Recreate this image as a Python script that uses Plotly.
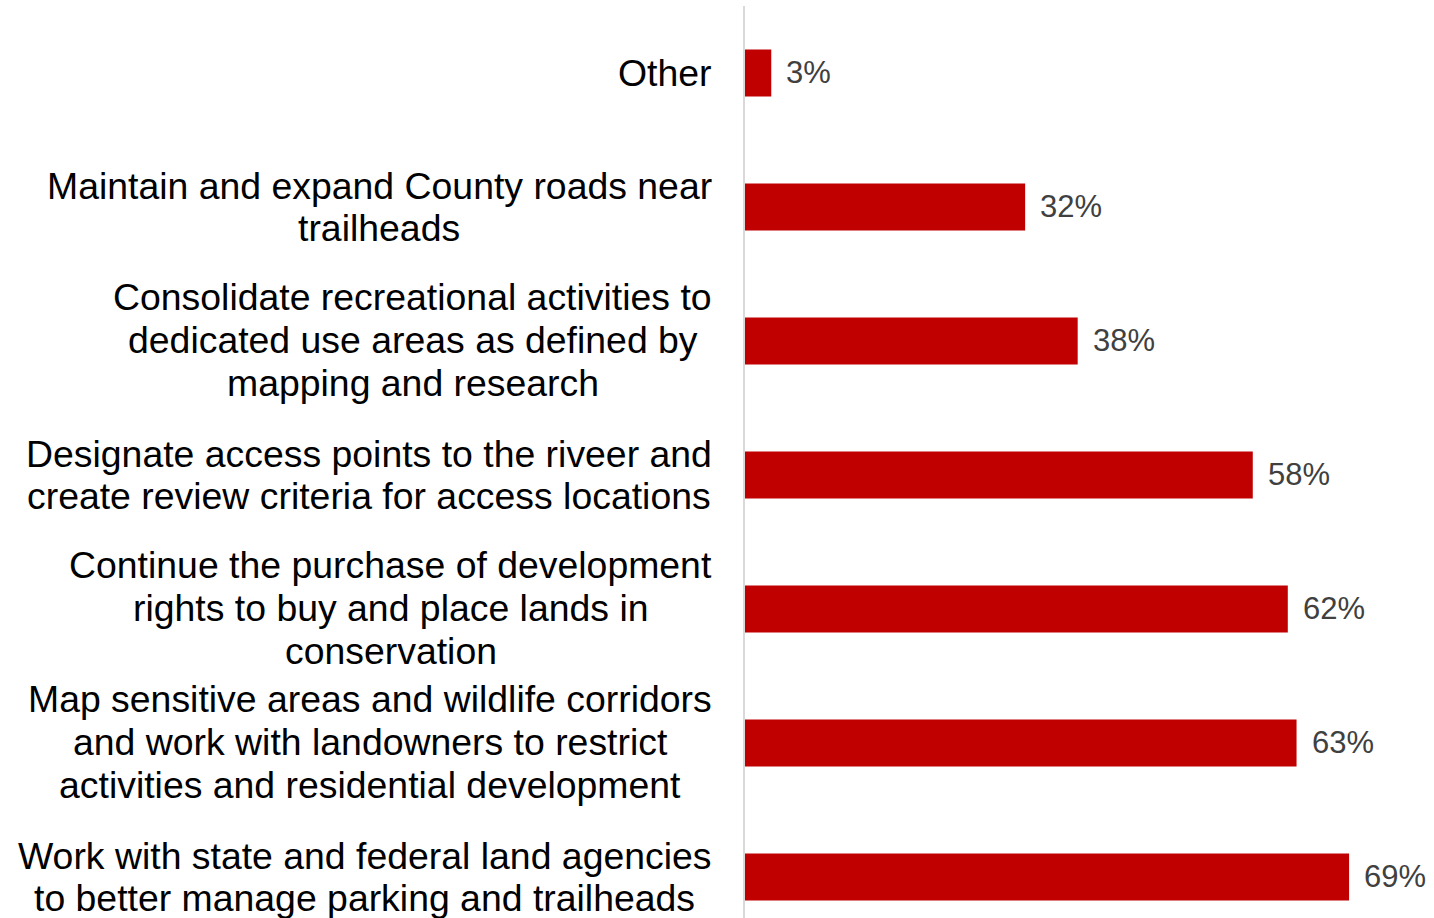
import plotly.graph_objects as go

# Survey responses, listed bottom to top
categories = [
    "Work with state and federal land agencies<br>to better manage parking and trailheads",
    "Map sensitive areas and wildlife corridors<br>and work with landowners to restrict<br>activities and residential development",
    "Continue the purchase of development<br>rights to buy and place lands in<br>conservation",
    "Designate access points to the riveer and<br>create review criteria for access locations",
    "Consolidate recreational activities to<br>dedicated use areas as defined by<br>mapping and research",
    "Maintain and expand County roads near<br>trailheads",
    "Other",
]
values = [69, 63, 62, 58, 38, 32, 3]

BAR_COLOR = "#C00000"
FONT = "Arial, Liberation Sans, sans-serif"
LABEL_SIZE = 37.4
LINE_GAP = 42.7      # px between label lines
LABEL_PAD = 33       # px between label block and axis
VALUE_SIZE = 31

# Arial / Liberation Sans advance widths (1/1000 em) used to centre wrapped lines
_W = dict(zip(
    " abcdefghijklmnopqrstuvwxyzABCDEFGHIJKLMNOPQRSTUVWXYZ",
    [278, 556, 556, 500, 556, 556, 278, 556, 556, 222, 222, 500, 222, 833,
     556, 556, 556, 556, 333, 500, 278, 556, 500, 722, 500, 500, 500,
     667, 667, 722, 722, 667, 611, 778, 722, 278, 500, 667, 556, 833,
     722, 778, 667, 778, 722, 667, 611, 722, 667, 944, 667, 667, 611],
))


def text_width(s, size):
    return sum(_W.get(ch, 556) for ch in s) / 1000 * size


fig = go.Figure(
    go.Bar(
        x=values,
        y=categories,
        orientation="h",
        marker=dict(color=BAR_COLOR, line=dict(width=0)),
        width=0.35,
        hoverinfo="skip",
    )
)

annotations = []
for cat, val in zip(categories, values):
    lines = cat.split("<br>")
    block_w = max(text_width(l, LABEL_SIZE) for l in lines)
    centre_shift = -(LABEL_PAD + block_w / 2)
    n = len(lines)
    for i, line in enumerate(lines):
        annotations.append(dict(
            x=0, y=cat, xref="x", yref="y",
            text=line, showarrow=False,
            xanchor="center", yanchor="middle",
            xshift=centre_shift,
            yshift=((n - 1) / 2 - i) * LINE_GAP + (1 if n == 3 else 0),
            font=dict(family=FONT, size=LABEL_SIZE, color="#000000"),
        ))
    # value label to the right of each bar
    annotations.append(dict(
        x=val, y=cat, xref="x", yref="y",
        text=f"{val}%", showarrow=False,
        xanchor="left", yanchor="middle",
        xshift=13, yshift=1,
        font=dict(family=FONT, size=VALUE_SIZE, color="#404040"),
    ))

fig.update_layout(
    width=1434,
    height=918,
    margin=dict(l=745, r=0, t=6, b=0),
    paper_bgcolor="white",
    plot_bgcolor="white",
    showlegend=False,
    annotations=annotations,
    xaxis=dict(
        range=[0, 78.7],
        showgrid=False, zeroline=False, showline=False,
        showticklabels=False, ticks="",
    ),
    yaxis=dict(
        type="category",
        categoryorder="array",
        categoryarray=categories,
        range=[-0.306, 6.5],
        showgrid=False, zeroline=False,
        showline=True, linecolor="#D9D9D9", linewidth=2,
        showticklabels=False, ticks="",
    ),
)

fig.write_html("out.html")
